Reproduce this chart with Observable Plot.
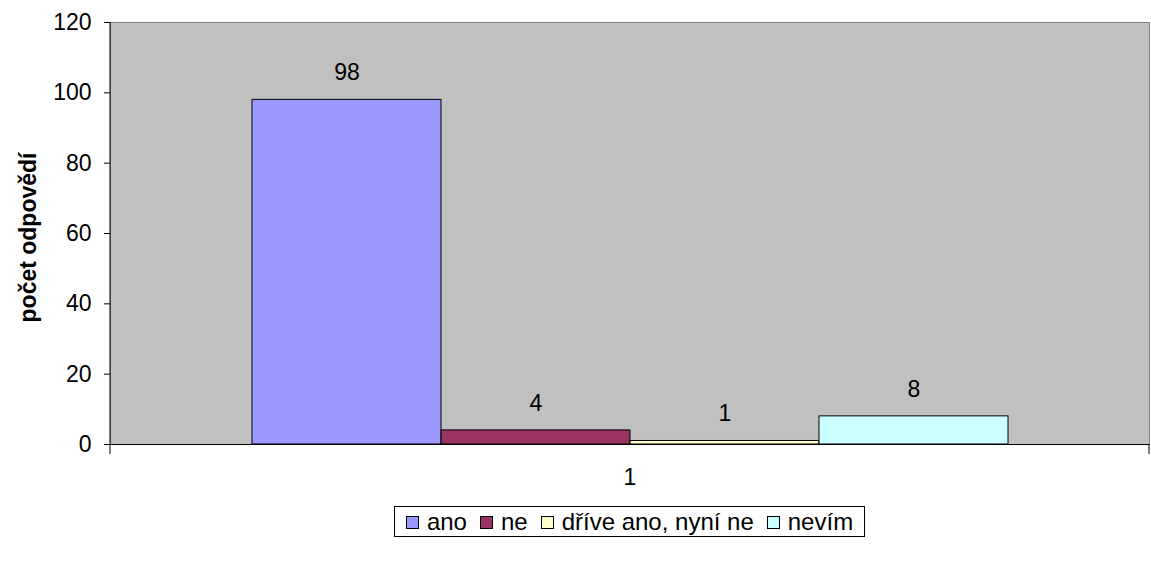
<!DOCTYPE html>
<html>
<head>
<meta charset="utf-8">
<script src="https://cdn.jsdelivr.net/npm/d3@7"></script>
<script src="https://cdn.jsdelivr.net/npm/@observablehq/plot@0.6"></script>
<style>
  body { margin: 0; background: white; font-family: "Liberation Sans", Arial, sans-serif; }
  #legendWrap { width: 1151px; display: flex; justify-content: center; padding-left: 110px; padding-right: 2px; box-sizing: border-box; margin-top: 16px; }
  #legend { display: flex; align-items: center; border: 1px solid black; padding: 3px 11px 2px 11px; font-size: 24px; line-height: 24px; color: black; }
  .item { display: flex; align-items: center; margin-right: 13px; }
  .item:last-child { margin-right: 0; }
  .sw { width: 11px; height: 11px; border: 1px solid black; margin-right: 8px; }
</style>
</head>
<body>
<div id="chart"></div>
<div id="legendWrap"><div id="legend"></div></div>
<script>
const categories = ["ano", "ne", "dříve ano, nyní ne", "nevím"];
const values = [98, 4, 1, 8];
const colors = ["#9999FF", "#993366", "#FFFFCC", "#CCFFFF"];
const groupLabel = "1";
const yTicks = [0, 20, 40, 60, 80, 100, 120];
const yTitle = "počet odpovědí";

const data = categories.map((c, i) => ({category: c, value: values[i]}));

const edgeTicks = (index, scales, values, dims) => {
  const g = d3.create("svg:g");
  const x0 = dims.marginLeft, x1 = dims.width - dims.marginRight;
  const y0 = dims.marginTop, yb = dims.height - dims.marginBottom;
  g.append("line").attr("x1", x0).attr("x2", x0).attr("y1", y0).attr("y2", yb + 10).attr("stroke", "black");
  g.append("line").attr("x1", x1).attr("x2", x1).attr("y1", yb).attr("y2", yb + 10).attr("stroke", "black");
  return g.node();
};

const FS = 23;

const chart = Plot.plot({
  width: 1151,
  height: 490,
  marginLeft: 110,
  marginRight: 2,
  marginTop: 22,
  marginBottom: 46,
  style: {fontFamily: "'Liberation Sans', Arial, sans-serif", fontSize: FS + "px", background: "white", color: "black"},
  x: {domain: categories, paddingInner: 0, paddingOuter: 0.746, axis: null},
  y: {domain: [0, 120], axis: null},
  color: {domain: categories, range: colors},
  marks: [
    Plot.frame({fill: "#C0C0C0", stroke: "#808080"}),
    Plot.barY(data, {x: "category", y: "value", fill: "category", stroke: "black", strokeWidth: 1}),
    Plot.text(data, {x: "category", y: "value", text: d => String(d.value), dy: -27, fontSize: FS, fill: "black"}),
    Plot.ruleY([0], {stroke: "black"}),
    Plot.axisY({ticks: yTicks, tickSize: 6, tickPadding: 13, label: null, fontSize: FS, tickFormat: d => String(d)}),
    Plot.text([groupLabel], {frameAnchor: "bottom", dy: 40, text: d => d, fontSize: FS, fill: "black"}),
    Plot.text([yTitle], {frameAnchor: "left", textAnchor: "middle", rotate: -90, dx: -82, dy: 4, text: d => d, fontSize: FS, fontWeight: "bold", fontFamily: "'Liberation Sans', Arial, sans-serif", fill: "black"}),
    edgeTicks
  ]
});
document.getElementById("chart").appendChild(chart);

const legend = document.getElementById("legend");
categories.forEach((c, i) => {
  const item = document.createElement("div");
  item.className = "item";
  const sw = document.createElement("div");
  sw.className = "sw";
  sw.style.background = colors[i];
  const t = document.createElement("span");
  t.textContent = c;
  item.appendChild(sw);
  item.appendChild(t);
  legend.appendChild(item);
});
</script>
</body>
</html>
